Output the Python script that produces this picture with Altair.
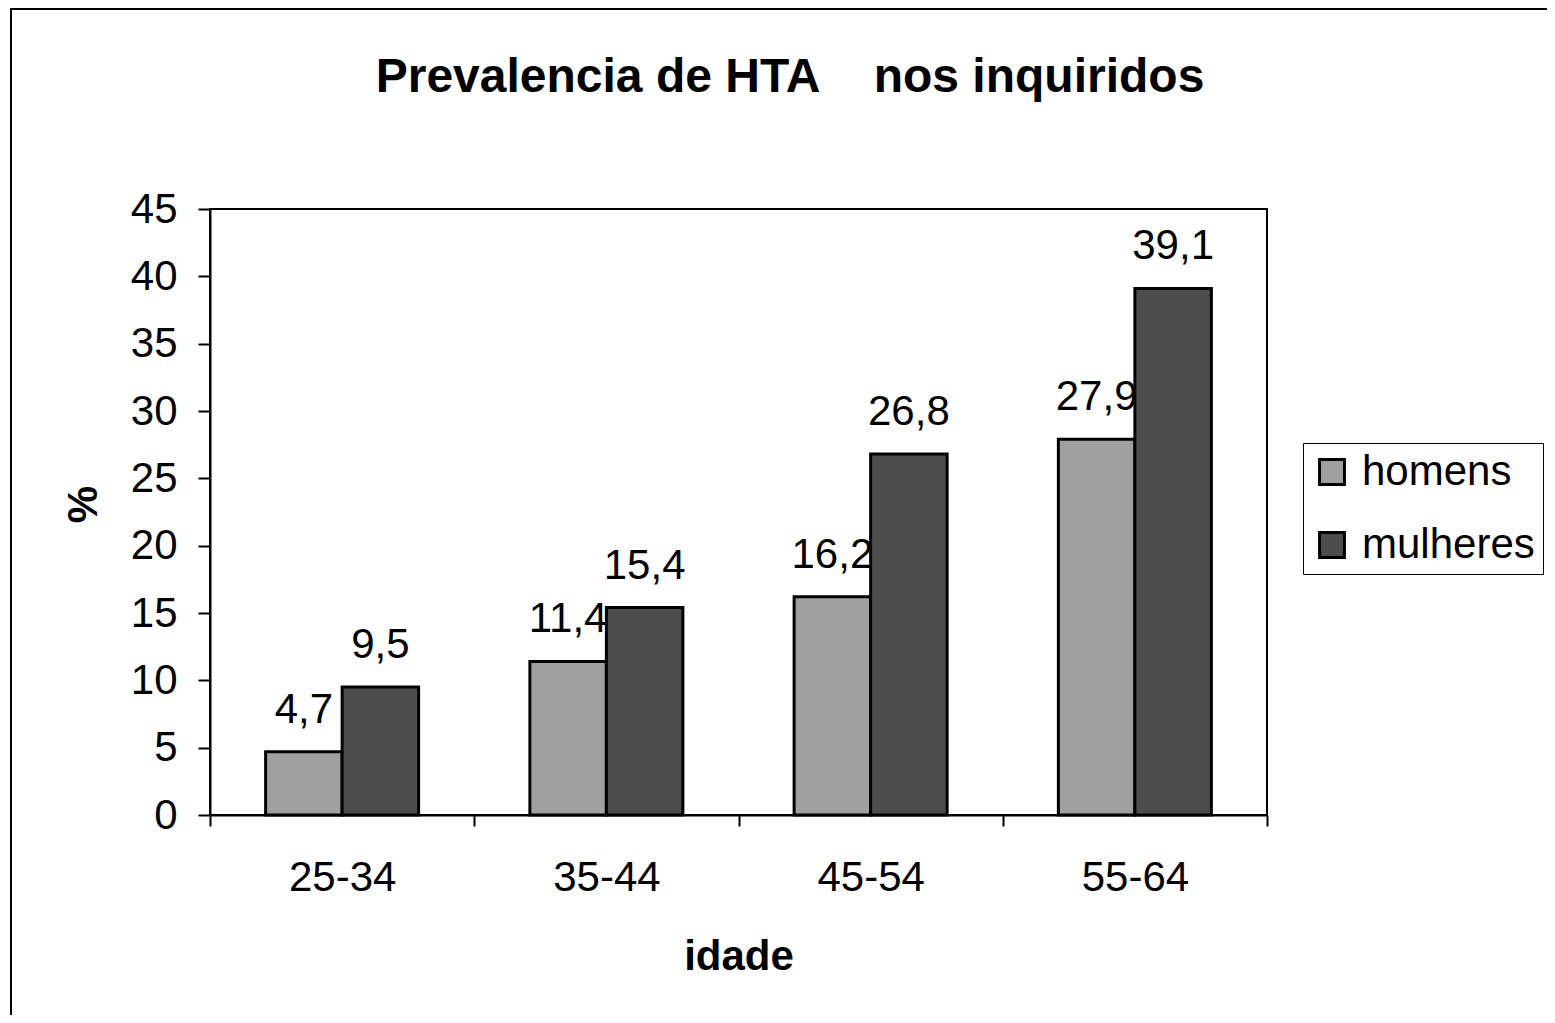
import altair as alt
import pandas as pd

# ---- data ----
idades = ["25-34", "35-44", "45-54", "55-64"]
sexos = ["homens", "mulheres"]
homens = [4.7, 11.4, 16.2, 27.9]
mulheres = [9.5, 15.4, 26.8, 39.1]
cores = ["#a0a0a0", "#4d4d4d"]
y_ticks = [0, 5, 10, 15, 20, 25, 30, 35, 40, 45]
titulo = "Prevalencia de HTA\u00a0\u00a0\u00a0\u00a0nos inquiridos"

rows = []
for i, g in enumerate(idades):
    for s, vals in zip(sexos, [homens, mulheres]):
        v = vals[i]
        rows.append({"idade": g, "sexo": s, "valor": v,
                     "rotulo": f"{v:.1f}".replace(".", ",")})
df = pd.DataFrame(rows)

W, H = 1057, 606
FONT = "Liberation Sans, Arial, sans-serif"

x_axis = alt.Axis(title="idade", labelAngle=0, tickBand="extent",
                  labelFontSize=42, labelFont=FONT, labelColor="black",
                  labelPadding=31, tickSize=11, tickWidth=2, tickColor="black",
                  domainWidth=2, domainColor="black", grid=False,
                  titleFontSize=42, titleFont=FONT, titleFontWeight="bold",
                  titleColor="black", titlePadding=38)
y_axis = alt.Axis(title="%", values=y_ticks, grid=False,
                  labelFontSize=42, labelFont=FONT, labelColor="black",
                  labelPadding=21, tickSize=12, tickWidth=2, tickColor="black",
                  domainWidth=2, domainColor="black",
                  titleFontSize=42, titleFont=FONT, titleFontWeight="bold",
                  titleColor="black", titleAngle=270, titleX=-127, titleY=295,
                  titleAlign="center", titleBaseline="middle")

x_enc = alt.X("idade:N", sort=idades, axis=x_axis,
              scale=alt.Scale(paddingInner=0, paddingOuter=0))
xoff_enc = alt.XOffset("sexo:N", sort=sexos,
                       scale=alt.Scale(paddingInner=0, paddingOuter=0.727))
y_enc = alt.Y("valor:Q", axis=y_axis,
              scale=alt.Scale(domain=[0, 45], nice=False, zero=True))
color_enc = alt.Color("sexo:N", sort=sexos,
                      scale=alt.Scale(domain=sexos, range=cores),
                      legend=alt.Legend(title=None, orient="none",
                                        legendX=1093, legendY=234,
                                        labelFontSize=42, labelFont=FONT,
                                        labelColor="black", labelOffset=9,
                                        labelLimit=400,
                                        symbolType="square", symbolSize=620,
                                        symbolStrokeColor="black",
                                        symbolStrokeWidth=3,
                                        rowPadding=31, padding=8,
                                        strokeColor="black", fillColor="white"))

frame = alt.Chart(pd.DataFrame({"f": [0]})).mark_rect(
    fillOpacity=0, stroke="black", strokeWidth=2
).encode(x=alt.value(-199), x2=alt.value(1500),
         y=alt.value(-200), y2=alt.value(1000))

title_mark = alt.Chart(pd.DataFrame({"t": [titulo]})).mark_text(
    fontSize=48, font=FONT, fontWeight="bold", color="black",
    align="center", baseline="alphabetic"
).encode(x=alt.value(580), y=alt.value(-117), text="t:N")

labels = alt.Chart(df).mark_text(
    baseline="alphabetic", dy=-29, fontSize=42, font=FONT, color="black"
).encode(x=x_enc, xOffset=xoff_enc, y=y_enc, text="rotulo:N")

bars = alt.Chart(df).mark_bar(
    stroke="black", strokeWidth=3, strokeJoin="miter"
).encode(x=x_enc, xOffset=xoff_enc, y=y_enc, color=color_enc)

chart = alt.layer(frame, title_mark, labels, bars).properties(
    width=W, height=H,
    autosize=alt.AutoSizeParams(type="none"),
    padding={"left": 202, "top": 201, "right": 280, "bottom": 200},
).configure(background="white").configure_view(stroke="black", strokeWidth=2)

chart.save("out.html", embed_options={"renderer": "svg", "actions": False})
